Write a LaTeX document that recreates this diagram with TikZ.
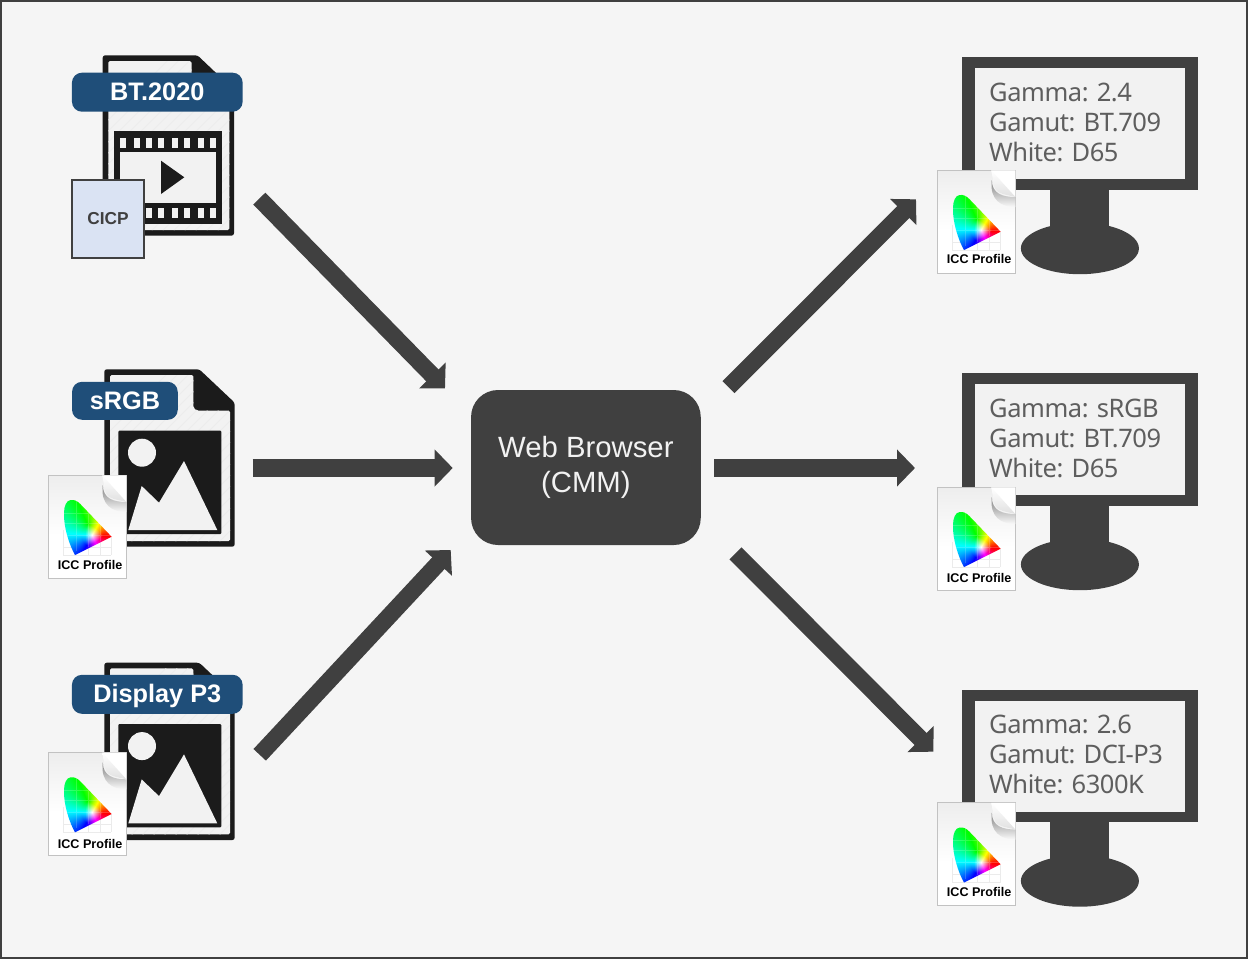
\documentclass[tikz,border=0pt]{standalone}
\usepackage{fontspec}
\setmainfont{Liberation Sans}
\newfontfamily\lightfont[LetterSpace=-1.8]{Noto Sans}
\usetikzlibrary{arrows.meta}
\definecolor{bgc}{HTML}{F5F5F5}
\definecolor{dark}{HTML}{404040}
\definecolor{ink}{HTML}{1B1B1B}
\definecolor{paperc}{HTML}{F2F2F2}
\definecolor{hatchc}{HTML}{ECECEC}
\definecolor{tagc}{HTML}{1F4E79}
\definecolor{cicpc}{HTML}{DAE3F3}
\definecolor{monitxt}{HTML}{5E5E5E}
\pgfdeclarefunctionalshading{gamutshade}{\pgfpoint{-50bp}{-50bp}}{\pgfpoint{50bp}{50bp}}{}{
 6.8 add exch 4.5 sub
 2 copy atan 3 add
 3 1 roll
 dup mul exch dup mul add sqrt 11 div
 dup 1 gt {pop 1} if
 1 index cos 0.5 add 1 index mul 1 add 1 index sub
 2 index 120 sub cos 0.5 add 2 index mul 1 add 2 index sub
 3 index 240 sub cos 0.5 add 3 index mul 1 add 3 index sub
 5 -2 roll pop pop
}
\tikzset{
 flow/.style={draw=dark,line width=17pt,-{Triangle[length=18pt,width=36pt]}},
 flowh/.style={draw=dark,line width=18pt,-{Triangle[length=18pt,width=36pt]}},
 tag/.style={fill=tagc,rounded corners=10pt,inner sep=0pt,minimum height=39pt,text=white,text height=22pt,text depth=5.4pt,font=\bfseries\fontsize{25.3}{25.3}\selectfont},
 montext/.style={anchor=west,align=left,inner sep=0pt,text=monitxt,font=\lightfont\fontsize{25.5}{30}\selectfont},
 icctext/.style={inner sep=0pt,text=black,font=\bfseries\fontsize{12.6}{13}\selectfont},
}
% ICC Profile icon: origin at the top-left corner of the sheet; #4 = height of its label
\newcommand\iccicon[4]{%
\begin{scope}[shift={(#1,#2)}]
 \fill[white] (0,0) rectangle (78.5,103.3);
 \shade[top color=black!7,bottom color=white] (0,0) rectangle (78.5,60);
 \draw[black!24,line width=0.9pt] (0,0) rectangle (78.5,103.3);
 \draw[black!8,line width=0.6pt] (15,55) -- (15,80) (28,55) -- (28,80) (40,60) -- (40,80) (52,60) -- (52,80) (63,62) -- (63,80) (15,72) -- (63,72) (15,80) -- (63,80);
 \shade[shading=gamutshade] (22.3,25) .. controls (26,24.5) and (29,26) .. (32,29) -- (63.3,61.7) -- (26.7,80) .. controls (21,70) and (15.2,52) .. (15.7,38) .. controls (15.8,31) and (18,25.5) .. (22.3,25) -- cycle;
 \draw[white,opacity=0.18,line width=0.5pt] (16,38) -- (44,38) (16,48) -- (52,48) (18,60) -- (63,60) (28,26) -- (28,76) (40,36) -- (40,72) (52,50) -- (52,66);
 % curled corner: its shadow, then the white flap
 \shade[top color=black!50,bottom color=black!2] (54.5,10) .. controls (54.5,24) and (66,27) .. (78,27) -- (78,37) .. controls (64,37) and (52,30) .. (54.5,10) -- cycle;
 \fill[white] (54,0.4) -- (78.1,0.4) -- (78.1,27) .. controls (66,24) and (56,24) .. (56.5,12) -- cycle;
 \shade[top color=white,bottom color=black!12] (54,0.4) -- (78.1,27) .. controls (66,24) and (56,24) .. (56.5,12) -- cycle;
 \node[icctext] (#3) at (41.8,#4) {ICC Profile};
\end{scope}}
% monitor
\newcommand\monitorat[5]{%
\begin{scope}[shift={(0,#1)}]
 \fill[dark] (1079.9,248.4) ellipse [x radius=59pt,y radius=25.8pt];
 \fill[dark] (1050,185) rectangle (1109,236);
 \fill[dark] (962,57) rectangle (1197.7,189.7);
 \fill[paperc] (975,68) rectangle (1185,179);
 \node[montext] (#2) at (989,122) {#3\\#4\\#5};
\end{scope}}
% picture file icon, placed by its vertical offset from the sRGB one
\newcommand\sheet[6]{% left, top, right, bottom, fold x, fold y
 \fill[ink,rounded corners=2.5pt] (#1,#2) -- (#5+6,#2) -- (#3,#6-8) -- (#3,#4) -- (#1,#4) -- cycle;
 \begin{scope}
 \clip[rounded corners=1.5pt] (#1+5.7,#2+5.7) -- (#5,#2+5.7) -- (#5,#6-6) .. controls (#5,#6-2) and (#5+3,#6) .. (#5+7,#6) -- (#3-4.7,#6) -- (#3-4.7,#4-5.7) -- (#1+5.7,#4-5.7) -- cycle;
 \fill[paperc] (#1,#2) rectangle (#3,#4);
 \foreach \k in {0,11,...,330}{\draw[hatchc,line width=0.8pt] (#1+\k-110,#4) -- ++(190,-190);}
 \end{scope}}
\newcommand\imagefile[1]{%
\begin{scope}[shift={(0,#1)}]
 \sheet{104.3}{369.3}{234.7}{546.7}{193.3}{410.7}
 \fill[ink,rounded corners=1pt] (118.3,430.7) rectangle (221.3,534);
 \fill[paperc] (142,452.7) circle [radius=14pt];
 \fill[paperc] (128.3,530) -- (141.7,486) -- (159,502.7) -- (184,461) -- (217.3,530) -- cycle;
\end{scope}}
\begin{document}
\begin{tikzpicture}[x=1pt,y=-1pt]
\useasboundingbox (0,0) rectangle (1248,959);
\fill[bgc] (0,0) rectangle (1248,959);
\draw[dark,line width=2pt] (1,1) rectangle (1247,958);

% BT.2020 file
\sheet{102.7}{55.3}{234}{235.7}{191.5}{98}
\fill[ink] (114,131.3) rectangle (222,224);
\fill[paperc] (120,151.7) rectangle (216,203.3);
\foreach \h in {123.3,137,149.3,161.3,175,187,201,213}{
 \fill[paperc] (\h-3,137.7) rectangle (\h+3,148);
 \fill[paperc] (\h-3,207.7) rectangle (\h+3,218.3);
}
\fill[ink] (161,160.7) -- (184.3,177.3) -- (161,194) -- cycle;
\node[tag,minimum width=170.7pt] (tagbt) at (157.3,92.2) {BT.2020};
\node[draw=dark,line width=2pt,fill=cicpc,minimum width=71.4pt,minimum height=77.4pt,inner sep=0pt,text=dark,font=\bfseries\fontsize{17.3}{18}\selectfont] (cicp) at (108,219) {\raisebox{1pt}{CICP}};

% sRGB file
\imagefile{0}
\node[tag,minimum width=105.7pt,minimum height=38pt] (tagsrgb) at (124.9,400.8) {sRGB};
\iccicon{48.3}{475}{iccsrgb}{90}

% Display P3 file
\imagefile{293.4}
\node[tag,minimum width=170.7pt] (tagpiii) at (157.3,694.3) {Display P3};
\iccicon{48.3}{752.3}{iccpiii}{92}

% browser
\node[fill=dark,rounded corners=27pt,minimum width=229.7pt,minimum height=155pt,inner sep=0pt,text=paperc,align=center,font=\fontsize{29.3}{34.5}\selectfont] (browser) at (585.9,467.5) {Web Browser\\(CMM)};

% monitors
\monitorat{0}{monone}{Gamma: 2.4}{Gamut: BT.709}{White: D65}
\iccicon{937.3}{170}{iccone}{89.3}
\monitorat{316}{montwo}{Gamma: sRGB}{Gamut: BT.709}{White: D65}
\iccicon{937.3}{487}{icctwo}{91}
\monitorat{632.5}{monthree}{Gamma: 2.6}{Gamut: DCI-P3}{White: 6300K}
\iccicon{937.3}{802.5}{iccthree}{89.5}

% connector ends
\coordinate (aS) at (259.3,198.6);
\coordinate (aE) at (445,388.3);
\coordinate (bS) at (252.7,468);
\coordinate (bE) at (452.7,468);
\coordinate (cS) at (259.7,754.8);
\coordinate (cE) at (450.7,550);
\coordinate (dS) at (728.5,387.2);
\coordinate (dE) at (916,199.3);
\coordinate (eS) at (714,468);
\coordinate (eE) at (915,468);
\coordinate (fS) at (735.5,553.3);
\coordinate (fE) at (933.3,751.7);
\draw[flow] (aS) -- (aE);
\draw[flowh] (bS) -- (bE);
\draw[flow] (cS) -- (cE);
\draw[flow] (dS) -- (dE);
\draw[flowh] (eS) -- (eE);
\draw[flow] (fS) -- (fE);
\end{tikzpicture}
\end{document}
